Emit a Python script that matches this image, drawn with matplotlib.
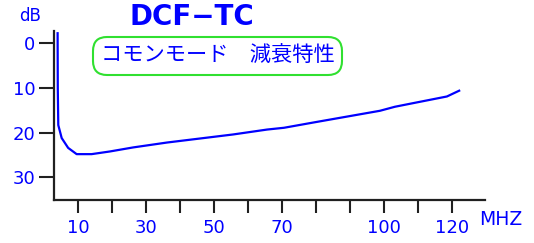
import matplotlib
matplotlib.use("Agg")
import matplotlib.pyplot as plt
from matplotlib.patches import FancyBboxPatch
from matplotlib.transforms import IdentityTransform

# Data
freq_mhz = [4.0, 4.05, 4.2, 5.2, 7.1, 9.6, 14.0, 19.4, 26.2, 36.2, 45.9, 55.6,
            65.6, 70.6, 79.4, 89.1, 98.8, 103.2, 108.5, 118.5, 122.4]
atten_db = [-2.5, 10.0, 18.3, 21.2, 23.4, 24.8, 24.8, 24.2, 23.3, 22.2, 21.3, 20.4,
            19.3, 18.9, 17.7, 16.4, 15.1, 14.2, 13.4, 11.9, 10.5]
x_ticks = [10, 20, 30, 40, 50, 60, 70, 80, 90, 100, 110, 120]
x_tick_labels = ["10", "", "30", "", "50", "", "70", "", "", "100", "", "120"]
y_ticks = [0, 10, 20, 30]
y_tick_labels = ["0", "10", "20", "30"]
title = "DCF\u2212TC"
subtitle = "コモンモード\u3000減衰特性"

W, H = 534, 243
dpi = 100
fig = plt.figure(figsize=(W / dpi, H / dpi), dpi=dpi)
ax = fig.add_axes([54 / W, 1 - 200 / H, (485 - 54) / W, (200 - 31) / H])

blue = "#0000ff"
ax.plot(freq_mhz, atten_db, color=blue, lw=1.6, solid_capstyle="butt")
ax.set_xlim(2.94, 129.7)
ax.set_ylim(35.06, -2.75)

for s in ["top", "right"]:
    ax.spines[s].set_visible(False)
for s in ["left", "bottom"]:
    ax.spines[s].set_linewidth(1.6)
    ax.spines[s].set_color("#202020")

ax.set_xticks(x_ticks)
ax.set_xticklabels(x_tick_labels)
ax.set_yticks(y_ticks)
ax.set_yticklabels(y_tick_labels)
ax.tick_params(axis="x", direction="out", length=9.4, width=1.5, color="#202020",
               labelcolor=blue, labelsize=13, pad=4.5)
ax.tick_params(axis="y", direction="out", length=10.8, width=1.5, color="#202020",
               labelcolor=blue, labelsize=13, pad=2.5)

fig.text(192 / W, 1 - 17 / H, title, color=blue, fontsize=20, fontweight="bold",
         ha="center", va="center", family="DejaVu Sans")
fig.text(30 / W, 1 - 16 / H, "dB", color=blue, fontsize=12, ha="center", va="center")
fig.text(501 / W, 1 - 219 / H, "MHZ", color=blue, fontsize=13.5, ha="center", va="center")

# Rounded box around subtitle (pixel coordinates, origin bottom-left)
x0, x1, ytop, ybot = 93, 342, 37, 75
box = FancyBboxPatch((x0, H - ybot), x1 - x0, ybot - ytop,
                     boxstyle="round,pad=0,rounding_size=14",
                     transform=IdentityTransform(), fill=False,
                     edgecolor="#30e030", lw=1.5)
fig.patches.append(box)
fig.text(217.5 / W, 1 - 56 / H, subtitle, color=blue, fontsize=15.3,
         ha="center", va="center", family=["Noto Sans CJK JP", "DejaVu Sans"])

fig.savefig("out.png", dpi=dpi)
